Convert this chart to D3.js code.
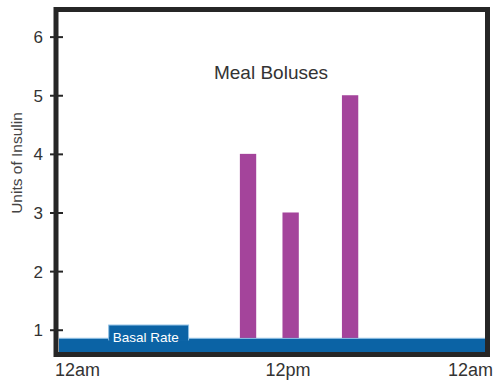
<!DOCTYPE html>
<html>
<head>
<meta charset="utf-8">
<script src="https://cdn.jsdelivr.net/npm/d3@7"></script>
<style>
  body { margin: 0; background: #fff; }
  text { font-family: "Liberation Sans", Arial, sans-serif; }
</style>
</head>
<body>
<script>
// data
let yTicks = [1, 2, 3, 4, 5, 6];
let xTickHours = [0, 12, 24];
let xTickLabels = ['12am', '12pm', '12am'];
let bolusHours = [10.65, 13.05, 16.4];
let bolusUnits = [4, 3, 5];
let basalHours = [0, 24];
let basalRate = 0.86;
let basalLabelHours = [2.8, 7.3];

let width = 495;
let height = 382;

let svg = d3.select('body').append('svg').attr('width', width).attr('height', height);

let x = d3.scaleLinear().domain([0, 24]).range([59, 485]);
let y = d3.scaleLinear().domain([0.62, 6.42]).range([352, 12]);

// bolus bars
let barW = 0.92;
svg.append('g').selectAll('rect')
  .data(bolusHours)
  .enter()
    .append('rect')
    .attr('x', d => x(d - barW / 2))
    .attr('width', d => x(d + barW / 2) - x(d - barW / 2))
    .attr('y', (d, i) => y(bolusUnits[i]))
    .attr('height', (d, i) => y(0.62) - y(bolusUnits[i]))
    .attr('fill', '#a4449b');

// basal rate band
svg.append('rect')
  .attr('x', x(basalHours[0]))
  .attr('width', x(basalHours[1]) - x(basalHours[0]))
  .attr('y', y(basalRate))
  .attr('height', y(0.62) - y(basalRate))
  .attr('fill', '#0b63a5');
svg.append('line')
  .attr('x1', x(basalHours[0])).attr('x2', x(basalHours[1]))
  .attr('y1', y(basalRate) + 0.5).attr('y2', y(basalRate) + 0.5)
  .attr('stroke', '#8fc0e4').attr('stroke-width', 1);

// label tab
let tabTop = 1.08;
svg.append('rect')
  .attr('x', x(basalLabelHours[0]))
  .attr('width', x(basalLabelHours[1]) - x(basalLabelHours[0]))
  .attr('y', y(tabTop))
  .attr('height', y(basalRate) - y(tabTop) + 2)
  .attr('fill', '#0b63a5')
  .attr('stroke', '#8fc0e4').attr('stroke-width', 1);
svg.append('rect')
  .attr('x', x(basalLabelHours[0]) + 0.5)
  .attr('width', x(basalLabelHours[1]) - x(basalLabelHours[0]) - 1)
  .attr('y', y(basalRate) - 1)
  .attr('height', 4)
  .attr('fill', '#0b63a5');
svg.append('text')
  .attr('x', x(basalLabelHours[0]) + 4)
  .attr('y', y(tabTop) + 16.5)
  .attr('fill', '#fff')
  .attr('font-size', 13.5)
  .text('Basal Rate');

// frame
svg.append('rect')
  .attr('x', 56).attr('y', 9.5)
  .attr('width', 431.5).attr('height', 345)
  .attr('fill', 'none')
  .attr('stroke', '#262626')
  .attr('stroke-width', 5);

// y axis
let yAxis = svg.append('g')
  .attr('transform', 'translate(56,0)')
  .call(d3.axisLeft(y).tickValues(yTicks).tickSize(6).tickFormat(d3.format('d')));
yAxis.select('.domain').remove();
yAxis.selectAll('.tick line').attr('x1', 7).attr('x2', -6).attr('stroke', '#262626').attr('stroke-width', 2);
yAxis.selectAll('.tick text')
  .attr('x', -13)
  .attr('dy', '0.36em')
  .attr('fill', '#333')
  .attr('font-size', 17)
  .attr('font-family', '"Liberation Sans", Arial, sans-serif');

// x labels
let xAnchor = ['start', 'middle', 'end'];
let xNudge = [-4, 16, 8];
svg.append('g').selectAll('text')
  .data(xTickHours)
  .enter()
    .append('text')
    .attr('x', (d, i) => x(d) + xNudge[i])
    .attr('y', 376)
    .attr('text-anchor', (d, i) => xAnchor[i])
    .attr('fill', '#333')
    .attr('font-size', 18)
    .text((d, i) => xTickLabels[i]);

// titles
svg.append('text')
  .attr('x', 271)
  .attr('y', 79)
  .attr('text-anchor', 'middle')
  .attr('fill', '#333')
  .attr('font-size', 19)
  .text('Meal Boluses');

svg.append('text')
  .attr('transform', 'translate(22,163) rotate(-90)')
  .attr('text-anchor', 'middle')
  .attr('fill', '#444')
  .attr('font-size', 15.5)
  .text('Units of Insulin');
</script>
</body>
</html>
